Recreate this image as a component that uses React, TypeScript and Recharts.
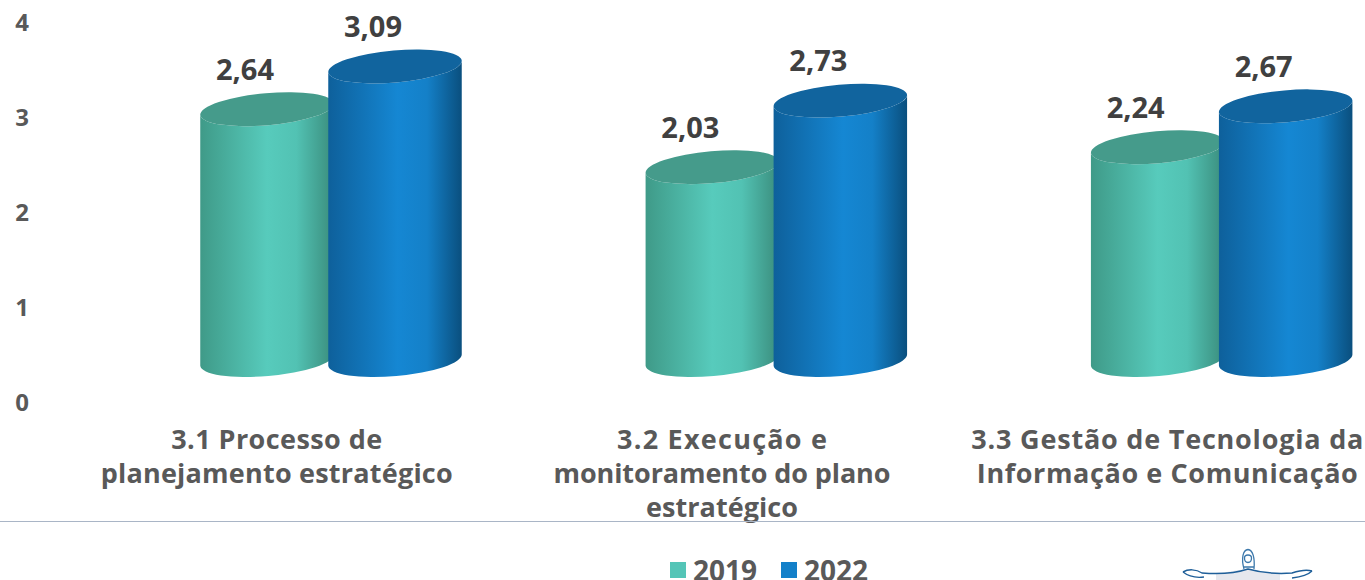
import React from "react";
import { BarChart, Bar, XAxis, YAxis, Legend, LabelList } from "recharts";

const categories = [
  "3.1 Processo de\nplanejamento estratégico",
  "3.2 Execução e\nmonitoramento do plano\nestratégico",
  "3.3 Gestão de Tecnologia da\nInformação e Comunicação",
];
const values2019 = [2.64, 2.03, 2.24];
const values2022 = [3.09, 2.73, 2.67];
const yTicks = [0, 1, 2, 3, 4];
const data = categories.map((name, i) => ({ name, y2019: values2019[i], y2022: values2022[i] }));

const FONT = "'Open Sans', sans-serif";
// offsets of the pseudo-3D projection relative to the flat plot area
const DX = 54;
const DY = -42;
const RX = 67;
const RY = 16;
const TILT = 5 * Math.PI / 180;

// rendered widths of the original typeface, per label line
const lineWidths: Record<string, number> = {
  "3.1 Processo de": 211,
  "planejamento estratégico": 352,
  "3.2 Execução e": 210,
  "monitoramento do plano": 337,
  "estratégico": 152,
  "3.3 Gestão de Tecnologia da": 392,
  "Informação e Comunicação": 381,
};

const Cylinder = (props: any) => {
  const { x, y, width, height, gradient, topFill } = props;
  const cx = x + width / 2 + DX;
  const yt = y + DY;
  const yb = y + height + DY;
  const ex = RX * Math.cos(TILT);
  const ey = RX * Math.sin(TILT);
  const arc = (s: number, tx: number, ty: number) => `A ${RX} ${RY} -5 0 ${s} ${tx} ${ty}`;
  const body = `M ${cx - ex} ${yt + ey} L ${cx - ex} ${yb + ey} ${arc(0, cx + ex, yb - ey)} L ${cx + ex} ${yt - ey} ${arc(1, cx - ex, yt + ey)} Z`;
  const top = `M ${cx - ex} ${yt + ey} ${arc(1, cx + ex, yt - ey)} ${arc(1, cx - ex, yt + ey)} Z`;
  return (
    <g>
      <path d={body} fill={`url(#${gradient})`} />
      <path d={top} fill={topFill} />
    </g>
  );
};

const fmt = (v: number) => v.toFixed(2).replace(".", ",");

const ValueLabel = (props: any) => {
  const { x, y, width, value } = props;
  return (
    <text x={x + width / 2 + DX - 22} y={y + DY - 41} textAnchor="middle" dominantBaseline="central"
      fontFamily={FONT} fontWeight={700} fontSize={29} fill="#404040">
      {fmt(value)}
    </text>
  );
};

const CategoryTick = (props: any) => {
  const { x, payload } = props;
  const lines = String(payload.value).split("\n");
  return (
    <g>
      {lines.map((l, i) => (
        <text key={i} x={x} y={438 + i * 34} textAnchor="middle" dominantBaseline="central"
          fontFamily={FONT} fontWeight={700} fontSize={27} fill="#595959"
          textLength={lineWidths[l]} lengthAdjust="spacing">
          {l}
        </text>
      ))}
    </g>
  );
};

const ValueTick = (props: any) => {
  const { y, payload } = props;
  return (
    <text x={22} y={y - 1} textAnchor="middle" dominantBaseline="central"
      fontFamily={FONT} fontWeight={700} fontSize={24} fill="#595959">
      {payload.value}
    </text>
  );
};

const legendItems = [
  { label: "2019", color: "#54C5B7" },
  { label: "2022", color: "#1380C9" },
];

const LegendContent = () => (
  <div style={{ display: "flex", height: 36, alignItems: "center", fontFamily: FONT, fontWeight: 700, fontSize: 28, lineHeight: "36px", color: "#595959", whiteSpace: "nowrap" }}>
    {legendItems.map((it) => (
      <div key={it.label} style={{ display: "flex", alignItems: "center", width: 111 }}>
        <span style={{ width: 16, height: 16, background: it.color, marginRight: 7 }} />
        <span>{it.label}</span>
      </div>
    ))}
  </div>
);

const Logo = () => (
  <svg width={160} height={40} style={{ position: "absolute", left: 1170, top: 540 }}>
    <path d="M 46 34 C 58 32 66 30 78 29 C 86 31 100 33 110 33 L 110 40 L 46 40 Z" fill="#e6e8ee" />
    <path d="M 13 32 C 18 29 26 29 32 33 C 44 34 60 35 78 29 C 92 33 108 34 122 33 C 128 31 136 29 142 31"
      fill="none" stroke="#1f5f99" strokeWidth={1.5} />
    <path d="M 13 32 C 18 36 26 38 34 37 M 122 38 C 130 37 138 35 142 31" fill="none" stroke="#1f5f99" strokeWidth={1.3} />
    <path d="M 74 29 C 71 18 73 10 78 9.5 C 83 10 85 18 84 29 M 74.5 18 C 74.5 14 81.5 14 81.5 18 C 81.5 24 74.5 24 74.5 18 M 74 27 L 84 27"
      fill="none" stroke="#3c78ab" strokeWidth={1.3} />
  </svg>
);

export default function App() {
  return (
    <div style={{ position: "absolute", left: 0, top: 0, width: 1365, height: 580, overflow: "hidden", background: "#fff" }}>
      <BarChart width={1400} height={580} data={data} barSize={128} barGap={0} barCategoryGap={0}
        margin={{ top: 22, right: 10, bottom: 0, left: 0 }}>
        <defs>
          <linearGradient id="g2019" x1="0" x2="1" y1="0" y2="0">
            <stop offset="0" stopColor="#3F9A88" />
            <stop offset="0.5" stopColor="#57CBBC" />
            <stop offset="0.72" stopColor="#52C2B3" />
            <stop offset="1" stopColor="#3A8C7C" />
          </linearGradient>
          <linearGradient id="g2022" x1="0" x2="1" y1="0" y2="0">
            <stop offset="0" stopColor="#0E609B" />
            <stop offset="0.52" stopColor="#1587D3" />
            <stop offset="0.74" stopColor="#1480C8" />
            <stop offset="1" stopColor="#0A4F7E" />
          </linearGradient>
        </defs>
        <XAxis dataKey="name" height={142} axisLine={false} tickLine={false} interval={0} tick={<CategoryTick />} />
        <YAxis width={54} domain={[0, 4]} ticks={yTicks} axisLine={false} tickLine={false} tick={<ValueTick />} />
        <Legend content={<LegendContent />}
          wrapperStyle={{ left: 670, top: 552, bottom: "auto", width: 240, height: 36 }} />
        <Bar dataKey="y2019" name="2019" isAnimationActive={false} fill="#54C5B7"
          shape={(p: any) => <Cylinder {...p} gradient="g2019" topFill="#459B8B" />}>
          <LabelList dataKey="y2019" content={<ValueLabel />} />
        </Bar>
        <Bar dataKey="y2022" name="2022" isAnimationActive={false} fill="#1380C9"
          shape={(p: any) => <Cylinder {...p} gradient="g2022" topFill="#11649E" />}>
          <LabelList dataKey="y2022" content={<ValueLabel />} />
        </Bar>
      </BarChart>
      <div style={{ position: "absolute", left: 0, top: 521, width: 1365, height: 1, background: "#A9B5C6" }} />
      <Logo />
    </div>
  );
}
